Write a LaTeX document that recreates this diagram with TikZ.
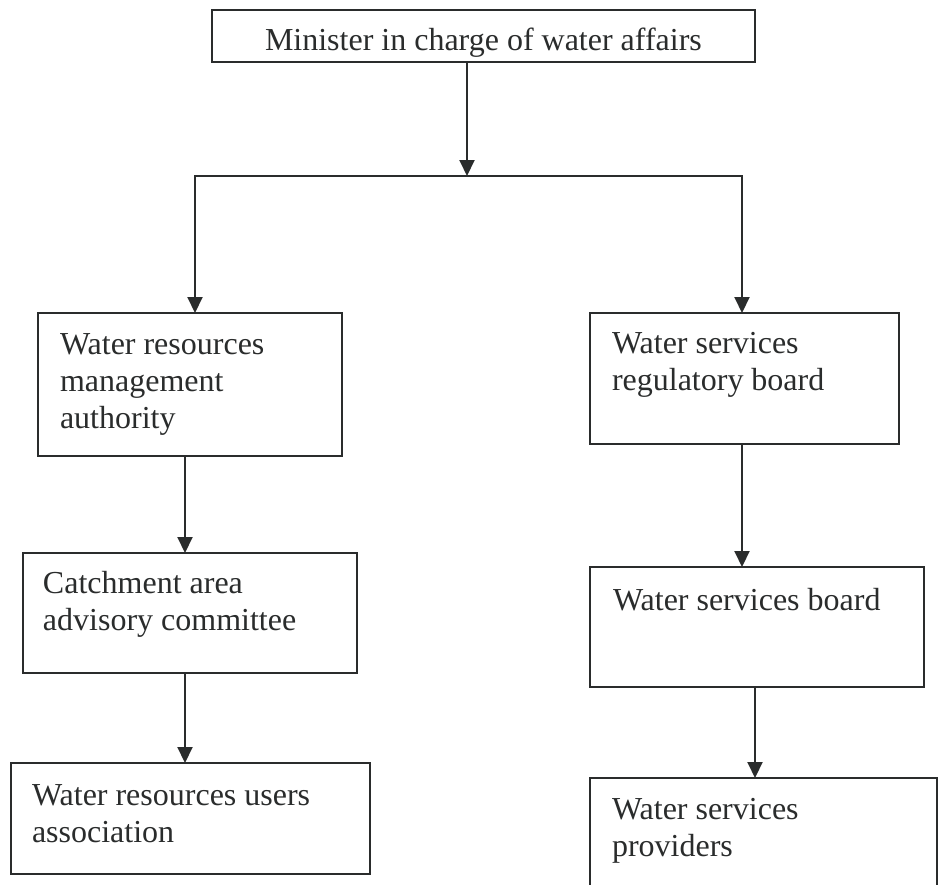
\documentclass[tikz,border=0pt]{standalone}
\usepackage{fontspec}
\setmainfont{Liberation Serif}
\usetikzlibrary{arrows.meta}
\definecolor{ink}{HTML}{2A2C2C}
\newcommand{\tbx}[5]{\vbox to #2{\hsize=#1\relax\leftskip=#3\relax\rightskip=0pt plus 1fil\relax
  \parindent=0pt\parfillskip=0pt plus 1fil\relax\hyphenpenalty=10000\relax\emergencystretch=50pt\relax
  \fontsize{32}{37}\selectfont\vskip\dimexpr#4-25.9pt\relax\strut #5\par\vss}}
\begin{document}
\begin{tikzpicture}[x=1pt,y=-1pt,
  box/.style={draw=ink, line width=2pt, inner sep=0pt, outer sep=0pt, anchor=north west, text=ink},
  arr/.style={draw=ink, line width=2pt, -{Triangle[length=16pt,width=15pt]}},
  bus/.style={draw=ink, line width=2pt}]
\useasboundingbox[fill=white] (0,0) rectangle (939,884);
\clip (0,0) rectangle (939,884);
% boxes
\node[box] (min) at (212,10) {\tbx{543pt}{52pt}{53pt}{40pt}{Minister in charge of water affairs}};
\node[box] (wrma) at (38,313) {\tbx{304pt}{143pt}{22pt}{41pt}{Water resources\newline management\newline authority}};
\node[box] (wsrb) at (590,313) {\tbx{309pt}{131pt}{22pt}{40pt}{Water services\newline regulatory board}};
\node[box] (camc) at (23,553) {\tbx{334pt}{120pt}{20pt}{40pt}{Catchment area\newline advisory committee}};
\node[box] (wsb) at (590,567) {\tbx{334pt}{120pt}{23pt}{43pt}{Water services board}};
\node[box] (wrua) at (11,763) {\tbx{359pt}{111pt}{21pt}{42pt}{Water resources users\newline association}};
\node[box] (wsp) at (590,778) {\tbx{347pt}{140pt}{22pt}{41pt}{Water services\newline providers}};
% bus coordinates
\coordinate (busM) at (467,176);
\coordinate (busL) at (194,176);
\coordinate (busR) at (743,176);
% connectors
\draw[arr] (min.south -| busM) -- (busM);
\draw[bus] (busL) -- (busR);
\draw[arr] ([xshift=1pt]busL) -- ([xshift=1pt]busL |- wrma.north);
\draw[arr] ([xshift=-1pt]busR) -- ([xshift=-1pt]busR |- wsrb.north);
\draw[arr] ([xshift=-5pt]wrma.south) -- ([xshift=-5pt]wrma.south |- camc.north);
\draw[arr] ([xshift=-5pt]camc.south) -- ([xshift=-5pt]camc.south |- wrua.north);
\draw[arr] ([xshift=-2.5pt]wsrb.south) -- ([xshift=-2.5pt]wsrb.south |- wsb.north);
\draw[arr] ([xshift=-2pt]wsb.south) -- ([xshift=-2pt]wsb.south |- wsp.north);
\end{tikzpicture}
\end{document}
